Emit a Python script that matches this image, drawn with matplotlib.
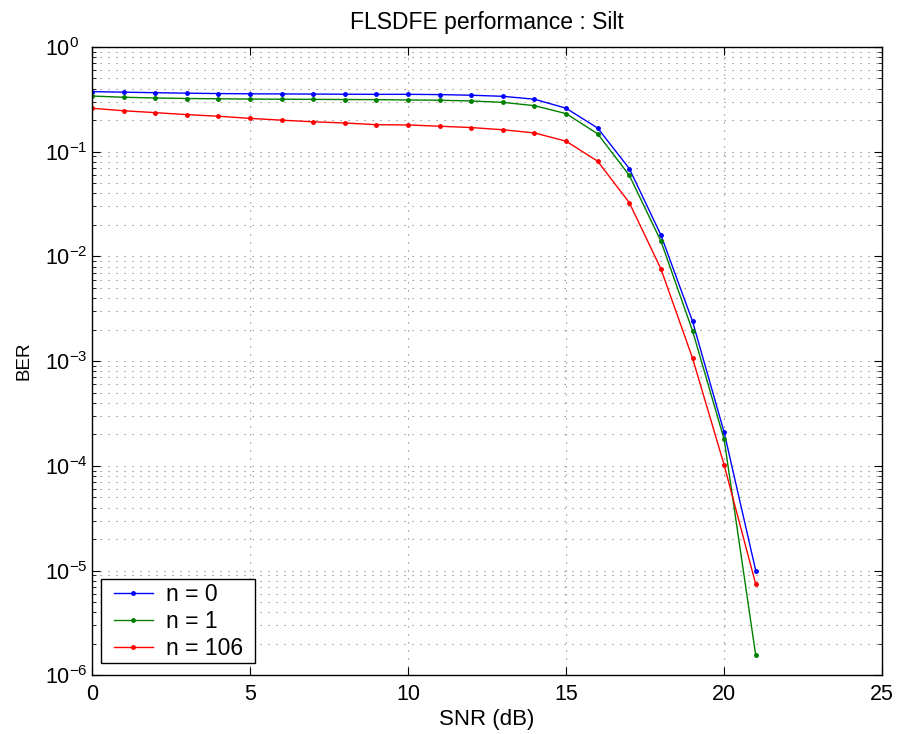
import matplotlib
matplotlib.use("Agg")
import matplotlib.pyplot as plt
from matplotlib.patches import Rectangle
from matplotlib.ticker import LogLocator, NullFormatter, FixedLocator

plt.rcParams['font.family'] = ['Liberation Sans', 'DejaVu Sans']

snr = list(range(0, 22))
ber_n0 = [0.375, 0.370, 0.366, 0.362, 0.359, 0.357, 0.356, 0.355, 0.354, 0.353,
          0.353, 0.351, 0.346, 0.338, 0.317, 0.260, 0.168, 0.0689, 0.0160,
          0.0024, 2.09e-4, 1.0e-5]
ber_n1 = [0.340, 0.331, 0.326, 0.322, 0.320, 0.318, 0.317, 0.316, 0.315, 0.314,
          0.312, 0.310, 0.305, 0.296, 0.275, 0.231, 0.148, 0.0595, 0.0140,
          0.00195, 1.79e-4, 1.55e-6]
ber_n106 = [0.260, 0.246, 0.236, 0.226, 0.218, 0.208, 0.200, 0.193, 0.188, 0.181,
            0.180, 0.175, 0.170, 0.162, 0.151, 0.126, 0.081, 0.0326, 0.0076,
            0.00107, 1.02e-4, 7.4e-6]
labels = ['n = 0', 'n = 1', 'n = 106']
colors = ['#0000ff', '#008000', '#ff0000']

fig = plt.figure(figsize=(9.02, 7.34), dpi=100)
ax = fig.add_axes([0.102, 0.080, 0.876, 0.856])

for y, lab, c in zip([ber_n0, ber_n1, ber_n106], labels, colors):
    ax.semilogy(snr, y, '-', color=c, marker='.', markersize=5, linewidth=1.0, label=lab)

ax.set_xlim(0, 25)
ax.set_ylim(1e-6, 1)
ax.xaxis.set_major_locator(FixedLocator([0, 5, 10, 15, 20, 25]))
ax.yaxis.set_major_locator(LogLocator(base=10, numticks=10))
ax.yaxis.set_minor_locator(LogLocator(base=10, subs=range(2, 10), numticks=100))
ax.yaxis.set_minor_formatter(NullFormatter())

grid_kw = dict(color='#555555', linestyle=(0, (1, 6.2)), linewidth=0.8, alpha=0.8)
ax.grid(True, which='major', axis='both', **grid_kw)
ax.grid(True, which='minor', axis='y', **grid_kw)

ax.tick_params(which='both', direction='in', top=True, right=True, labelsize=15.5)
ax.tick_params(which='major', length=6)
ax.tick_params(which='minor', length=3)
ax.tick_params(axis='x', which='major', pad=6)
ax.tick_params(axis='y', which='major', pad=34)
for lbl in ax.get_yticklabels():
    lbl.set_horizontalalignment('left')
for s in ax.spines.values():
    s.set_linewidth(1.0)

ax.set_xlabel('SNR (dB)', fontsize=16, labelpad=3)
ax.set_ylabel('BER', fontsize=13.5, labelpad=9)
ax.set_title('FLSDFE performance : Silt', fontsize=16.5, pad=13)

leg = ax.legend(loc='lower left', bbox_to_anchor=(0.0235, 0.019), borderaxespad=0,
                fontsize=16.5, frameon=False, handlelength=1.7, numpoints=1,
                labelspacing=0.18, handletextpad=0.57, borderpad=0.15)
leg.set_zorder(6)

# white boxed frame behind the legend, slightly wider than its content
fig.canvas.draw()
renderer = fig.canvas.get_renderer()
bb = leg.get_window_extent(renderer)
inv = ax.transAxes.inverted()
(x0, y0) = inv.transform((bb.x0 - 9.5, bb.y0))
(x1, y1) = inv.transform((bb.x1 + 8.5, bb.y1))
frame = Rectangle((x0, y0), x1 - x0, y1 - y0, transform=ax.transAxes,
                  facecolor='white', edgecolor='black', linewidth=1.0, zorder=5.5)
ax.add_patch(frame)

fig.savefig('out.png', dpi=100)
